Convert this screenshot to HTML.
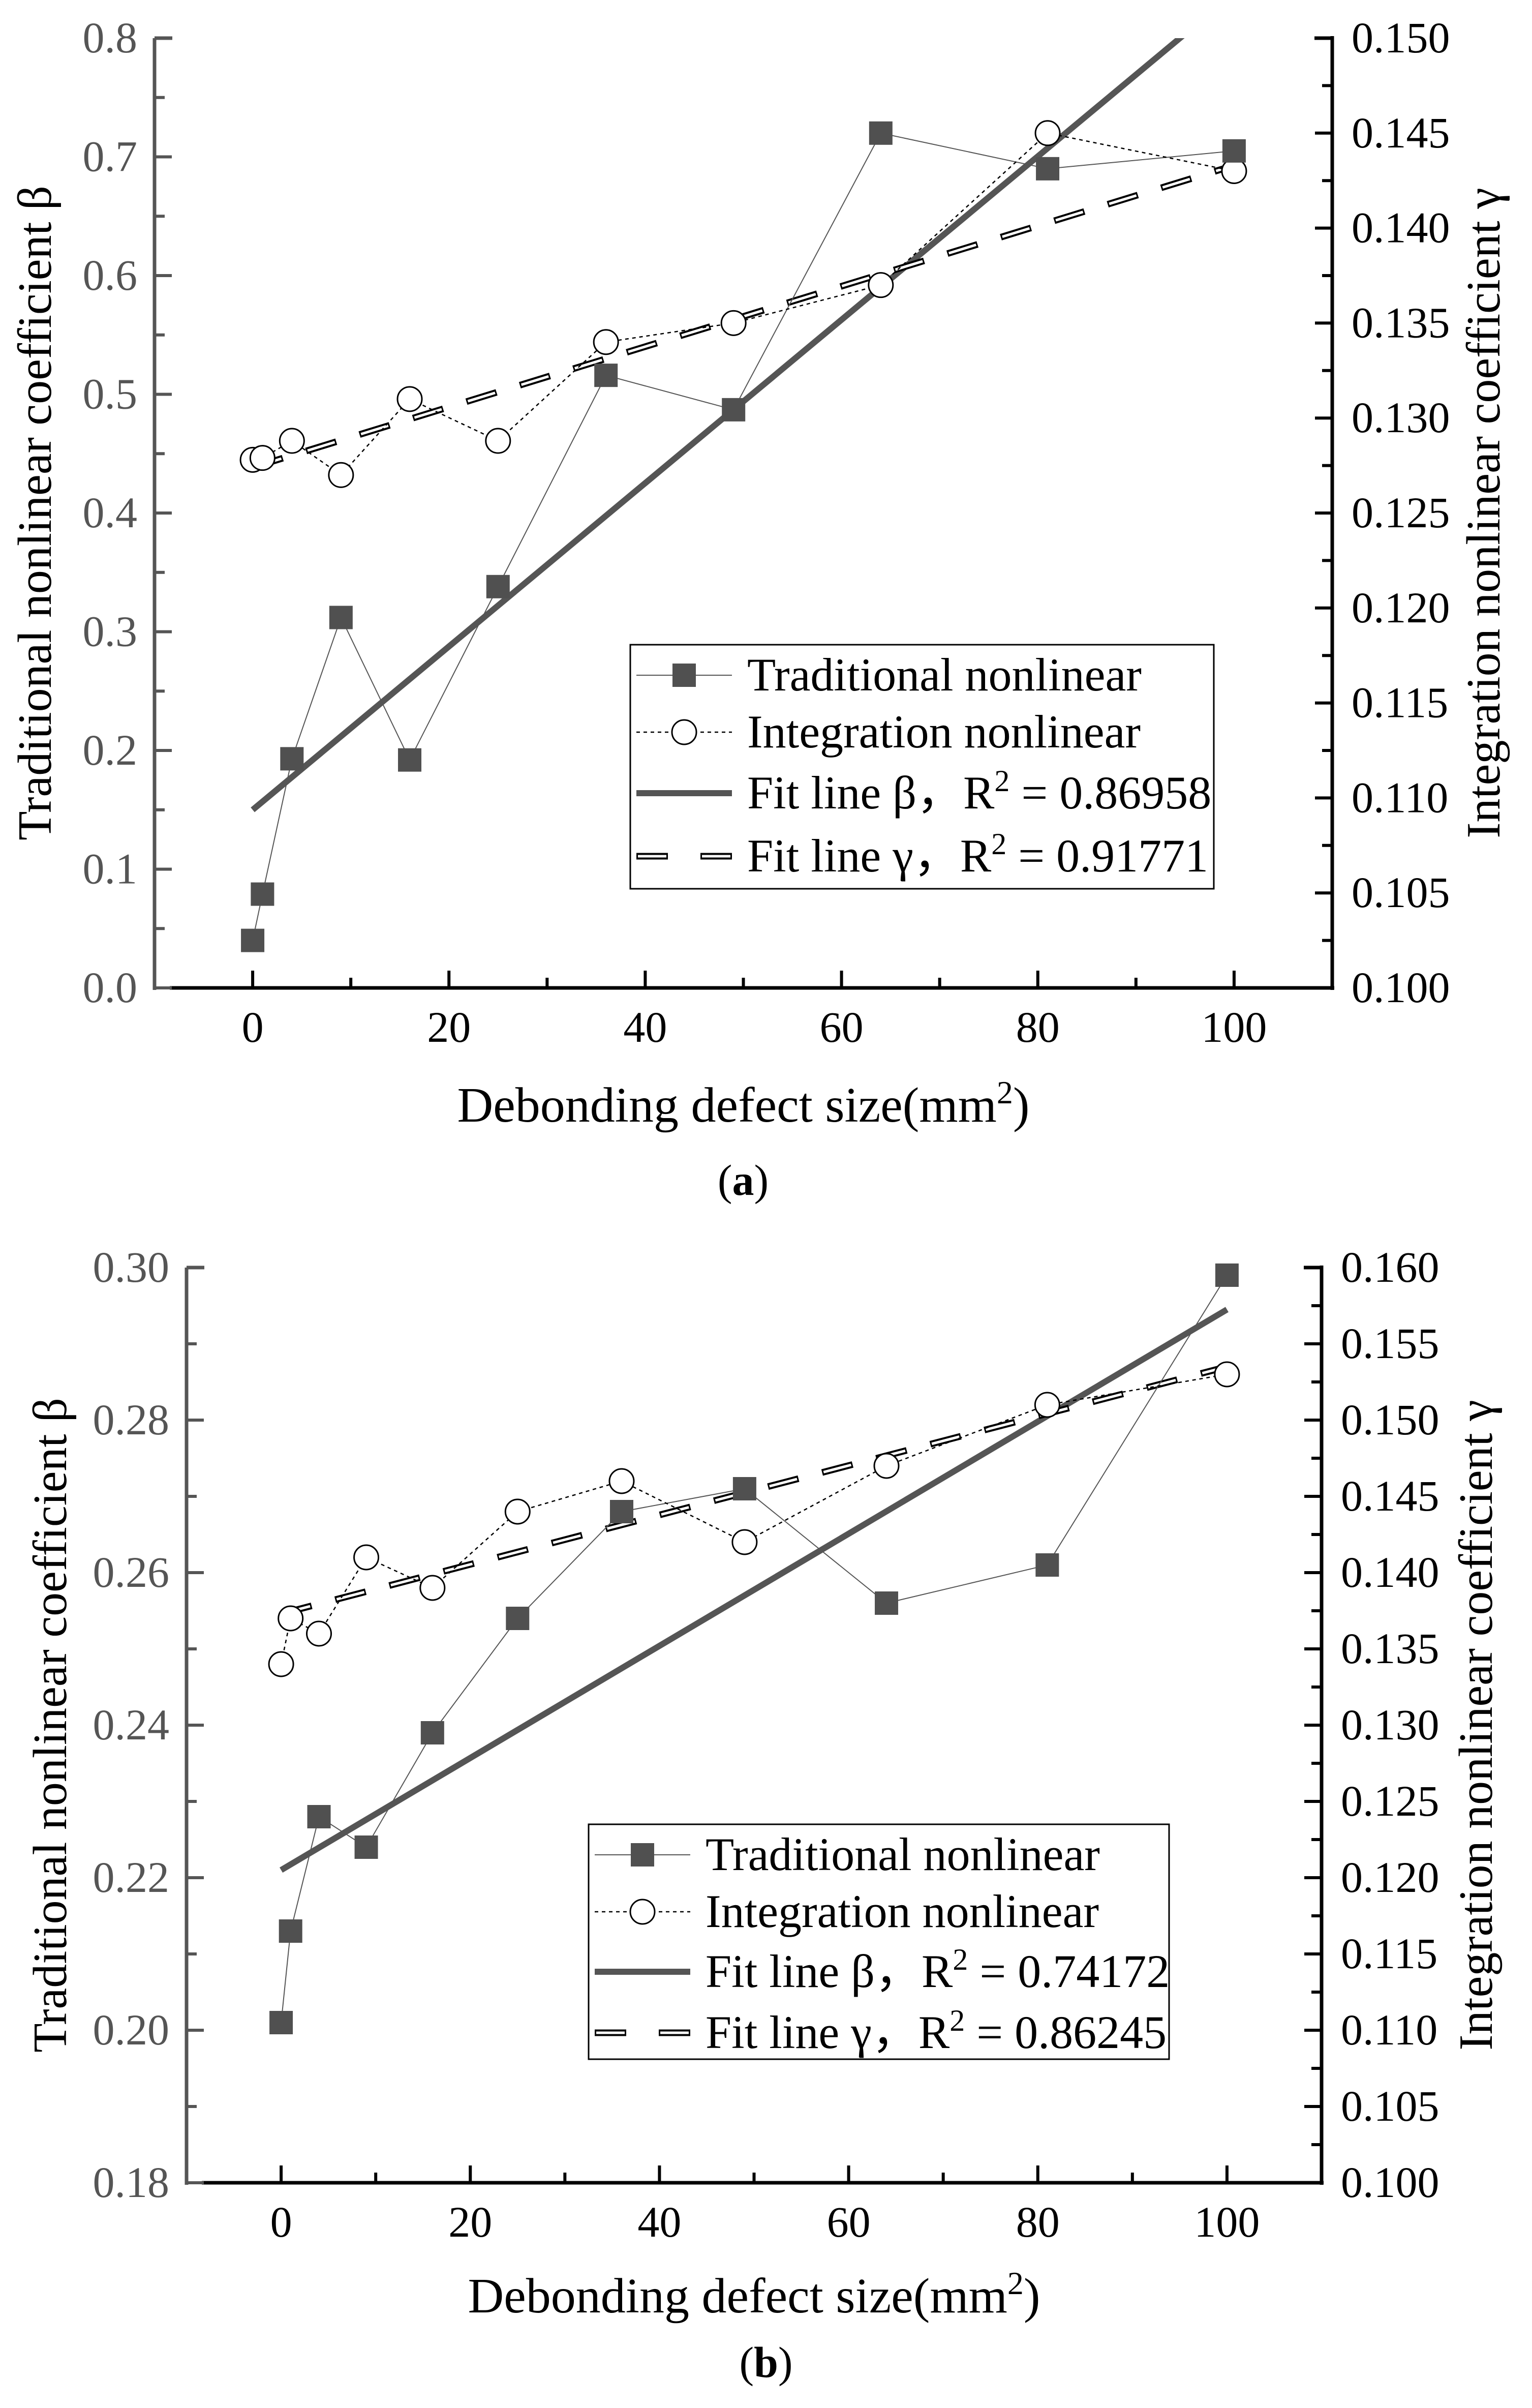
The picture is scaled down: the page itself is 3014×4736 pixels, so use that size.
<!DOCTYPE html>
<html><head><meta charset="utf-8"><style>
html,body{margin:0;padding:0;background:#fff;}
svg{display:block;font-family:"Liberation Serif",serif;}
</style></head><body>
<svg id="fig" width="3014" height="4736" viewBox="0 0 3014 4736" xmlns="http://www.w3.org/2000/svg"></svg>
<script>
const xValues = [0,1,4,9,16,25,36,49,64,81,100];
const betaA = [0.04,0.079,0.193,0.312,0.192,0.338,0.516,0.487,0.72,0.69,0.705];
const gammaA = [0.1278,0.1279,0.1288,0.1270,0.1310,0.1288,0.1340,0.1350,0.1370,0.1450,0.1430];
const fitBetaA = [0.15,0.838];
const fitGammaA = [0.1274,0.1433];
const betaB = [0.201,0.213,0.228,0.224,0.239,0.254,0.268,0.271,0.256,0.261,0.299];
const gammaB = [0.134,0.137,0.136,0.141,0.139,0.144,0.146,0.142,0.147,0.151,0.153];
const fitBetaB = [0.221,0.2945];
const fitGammaB = [0.1373,0.1535];
const xTicks = [0,20,40,60,80,100];
const leftTicksA = ["0.0","0.1","0.2","0.3","0.4","0.5","0.6","0.7","0.8"];
const rightTicksA = ["0.100","0.105","0.110","0.115","0.120","0.125","0.130","0.135","0.140","0.145","0.150"];
const leftTicksB = ["0.18","0.20","0.22","0.24","0.26","0.28","0.30"];
const rightTicksB = ["0.100","0.105","0.110","0.115","0.120","0.125","0.130","0.135","0.140","0.145","0.150","0.155","0.160"];

const NS="http://www.w3.org/2000/svg";
const svg=document.getElementById('fig');
function mk(tag,attrs,parent,text){const e=document.createElementNS(NS,tag);for(const k in attrs)e.setAttribute(k,attrs[k]);if(text!==undefined)e.textContent=text;(parent||svg).appendChild(e);return e;}

function panel(o){
  const g=mk('g',{});
  
  
  const X=v=>o.L+(v-(-10))/120*(o.R-o.L);
  const YL=v=>o.B-(v-o.lmin)/(o.lmax-o.lmin)*(o.B-o.T);
  const YR=v=>o.B-(v-o.rmin)/(o.rmax-o.rmin)*(o.B-o.T);
  const clipId='clip'+o.id;
  const cp=mk('clipPath',{id:clipId},g);mk('rect',{x:o.L,y:o.T,width:o.R-o.L,height:o.B-o.T},cp);
  const la=mk('line',{x1:o.L,y1:o.T,x2:o.L,y2:o.B+4,stroke:'#555','stroke-width':7},g);
  
  const ba=mk('line',{x1:o.L+30,y1:o.B,x2:o.R+4,y2:o.B,stroke:'#000','stroke-width':7},g);
  
  const ra=mk('line',{x1:o.R,y1:o.T-4,x2:o.R,y2:o.B+4,stroke:'#000','stroke-width':7},g);
  
  mk('line',{x1:o.L,y1:o.T,x2:o.L+35,y2:o.T,stroke:'#555','stroke-width':7},g);
  mk('line',{x1:o.R-35,y1:o.T,x2:o.R,y2:o.T,stroke:'#000','stroke-width':7},g);
  for(let v=-10;v<=110;v+=10){
    if(v===-10||v===110)continue;
    const major=xTicks.includes(v);
    mk('line',{x1:X(v),y1:o.B,x2:X(v),y2:o.B-(major?34:20),stroke:'#000','stroke-width':6},g);
  }
  xTicks.forEach(v=>{const t=mk('text',{x:X(v),y:o.B+106,'font-size':86,'text-anchor':'middle',fill:'#000'},g,String(v));
    });
  const ln=o.leftTicks.length;
  o.leftTicks.forEach((s,i)=>{const v=parseFloat(s);const y=YL(v);
    mk('line',{x1:o.L,y1:y,x2:o.L+34,y2:y,stroke:'#555','stroke-width':6},g);
    if(i<ln-1){const v2=parseFloat(o.leftTicks[i+1]);mk('line',{x1:o.L,y1:YL((v+v2)/2),x2:o.L+20,y2:YL((v+v2)/2),stroke:'#555','stroke-width':6},g);}
    const t=mk('text',{x:o.L-34,y:y+28,'font-size':86,'text-anchor':'end',fill:'#555'},g,s);
    });
  const rn=o.rightTicks.length;
  o.rightTicks.forEach((s,i)=>{const v=parseFloat(s);const y=YR(v);
    mk('line',{x1:o.R,y1:y,x2:o.R-34,y2:y,stroke:'#000','stroke-width':6},g);
    if(i<rn-1){const v2=parseFloat(o.rightTicks[i+1]);mk('line',{x1:o.R,y1:YR((v+v2)/2),x2:o.R-20,y2:YR((v+v2)/2),stroke:'#000','stroke-width':6},g);}
    const t=mk('text',{x:o.R+38,y:y+28,'font-size':86,fill:'#000'},g,s);
    });
  const lt=mk('text',{x:0,y:0,'font-size':94,'text-anchor':'middle',fill:'#000',transform:`translate(${o.ltx},${(o.T+o.B)/2}) rotate(-90)`},g,'Traditional nonlinear coefficient β');
  
  const rt=mk('text',{x:0,y:0,'font-size':94,'text-anchor':'middle',fill:'#000',transform:`translate(${o.rtx},${(o.T+o.B)/2}) rotate(-90)`},g,'Integration nonlinear coefficient γ');
  
  const xt=mk('text',{x:(o.L+o.R)/2,y:o.xty,'font-size':98,'text-anchor':'middle',fill:'#000'},g);
  
  mk('tspan',{},xt,'Debonding defect size(mm');mk('tspan',{dy:-36,'font-size':64},xt,'2');mk('tspan',{dy:36},xt,')');
  const pl=mk('text',{x:o.plx,y:o.ply,'font-size':86,'text-anchor':'middle',fill:'#000'},g);
  
  mk('tspan',{},pl,'(');mk('tspan',{'font-weight':'bold'},pl,o.letter);mk('tspan',{},pl,')');
  const cg=mk('g',{'clip-path':`url(#${clipId})`},g);
  const fb=mk('line',{x1:X(0),y1:YL(o.fitB[0]),x2:X(100),y2:YL(o.fitB[1]),stroke:'#555','stroke-width':12},cg);
  
  const fgA=[X(0),YR(o.fitG[0]),X(100),YR(o.fitG[1])];
  const fg=mk('line',{x1:fgA[0],y1:fgA[1],x2:fgA[2],y2:fgA[3],stroke:'#000','stroke-width':13,'stroke-dasharray':'62 48'},cg);
  
  mk('line',{x1:fgA[0],y1:fgA[1],x2:fgA[2],y2:fgA[3],stroke:'#fff','stroke-width':5,'stroke-dasharray':'56 54','stroke-dashoffset':-3},cg);
  const bp=mk('polyline',{points:xValues.map((x,i)=>X(x)+','+YL(o.beta[i])).join(' '),fill:'none',stroke:'#555','stroke-width':2},cg);
  
  const gp=mk('polyline',{points:xValues.map((x,i)=>X(x)+','+YR(o.gamma[i])).join(' '),fill:'none',stroke:'#000','stroke-width':2.5,'stroke-dasharray':'7 7'},cg);
  
  xValues.forEach((x,i)=>{const c=mk('circle',{cx:X(x),cy:YR(o.gamma[i]),r:24,fill:'#fff',stroke:'#000','stroke-width':3},g);
    });
  xValues.forEach((x,i)=>{const r=mk('rect',{x:X(x)-23,y:YL(o.beta[i])-23,width:46,height:46,fill:'#505050'},g);
    });
  const lg=mk('g',{},g);
  const b=o.leg;
  mk('rect',{x:b.x,y:b.y,width:b.w,height:b.h,fill:'#fff',stroke:'#000','stroke-width':3},lg);
  const x1=b.x+12,x2=b.x+200,xm=(x1+x2)/2,tx=b.x+230;
  const fs=92;
  let y=b.rows[0];mk('line',{x1:x1,y1:y,x2:x2,y2:y,stroke:'#555','stroke-width':2},lg);mk('rect',{x:xm-23,y:y-23,width:46,height:46,fill:'#505050'},lg);
  mk('text',{x:tx,y:y+30,'font-size':fs},lg,'Traditional nonlinear');
  y=b.rows[1];mk('line',{x1:x1,y1:y,x2:x2,y2:y,stroke:'#000','stroke-width':2.5,'stroke-dasharray':'7 7'},lg);mk('circle',{cx:xm,cy:y,r:24,fill:'#fff',stroke:'#000','stroke-width':3},lg);
  mk('text',{x:tx,y:y+30,'font-size':fs},lg,'Integration nonlinear');
  y=b.rows[2];mk('line',{x1:x1,y1:y,x2:x2,y2:y,stroke:'#555','stroke-width':12},lg);
  const t3=mk('text',{x:tx,y:y+30,'font-size':fs},lg);mk('tspan',{},t3,'Fit line β，R');mk('tspan',{dy:-34,'font-size':60},t3,'2');mk('tspan',{dy:34},t3,' = '+o.r2b);
  y=b.rows[3];mk('line',{x1:x1,y1:y,x2:x2,y2:y,stroke:'#000','stroke-width':13,'stroke-dasharray':'62 64'},lg);
  mk('line',{x1:x1,y1:y,x2:x2,y2:y,stroke:'#fff','stroke-width':5,'stroke-dasharray':'56 70','stroke-dashoffset':-3},lg);
  const t4=mk('text',{x:tx,y:y+30,'font-size':fs},lg);mk('tspan',{},t4,'Fit line γ，R');mk('tspan',{dy:-34,'font-size':60},t4,'2');mk('tspan',{dy:34},t4,' = '+o.r2g);
}
panel({id:'a',name:'panel-a',letter:'a',L:304,R:2621,T:75,B:1943,lmin:0,lmax:0.8,rmin:0.1,rmax:0.15,
  leftTicks:leftTicksA,rightTicks:rightTicksA,beta:betaA,gamma:gammaA,fitB:fitBetaA,fitG:fitGammaA,
  ltx:100,rtx:2950,xty:2206,plx:1462,ply:2350,r2b:'0.86958',r2g:'0.91771',
  leg:{x:1240,y:1268,w:1148,h:480,rows:[1328,1440,1560,1684]}});
panel({id:'b',name:'panel-b',letter:'b',L:367,R:2600,T:2493,B:4293,lmin:0.18,lmax:0.30,rmin:0.1,rmax:0.16,
  leftTicks:leftTicksB,rightTicks:rightTicksB,beta:betaB,gamma:gammaB,fitB:fitBetaB,fitG:fitGammaB,
  ltx:130,rtx:2935,xty:4548,plx:1507,ply:4675,r2b:'0.74172',r2g:'0.86245',
  leg:{x:1158,y:3588,w:1142,h:462,rows:[3648,3760,3878,3998]}});
</script>
</body></html>
